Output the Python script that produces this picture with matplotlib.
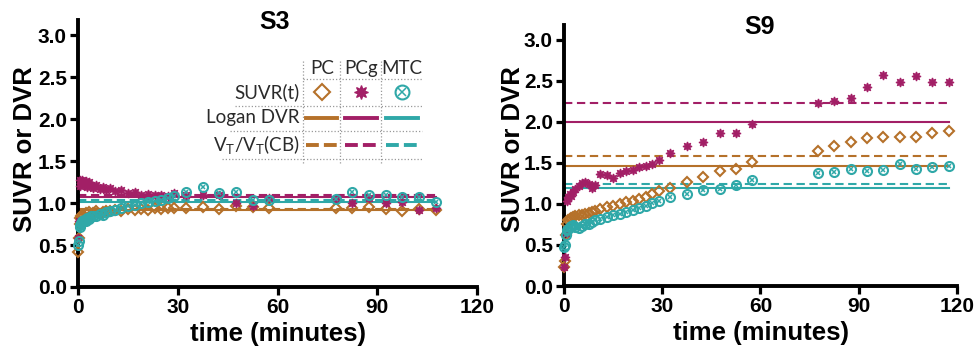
import matplotlib
matplotlib.use("Agg")
import matplotlib.pyplot as plt
from matplotlib.lines import Line2D

# ---- data -------------------------------------------------------------
# frame mid-times (min)
t_s3 = [0.1, 0.3, 0.5, 0.7, 0.9, 1.25, 1.75, 2.25, 2.75, 3.25, 3.75, 4.5, 5.5,
        6.5, 7.5, 8.5, 9.5, 11, 13, 15, 17, 19, 21, 23, 25, 27, 29,
        32.5, 37.5, 42.5, 47.5, 52.5, 57.5, 77.5, 82.5, 87.5, 92.5, 97.5,
        102.5, 107.5]
t_s9 = [0.125, 0.375, 0.625, 0.875, 1.25, 1.75, 2.25, 2.75, 3.5, 4.5, 5.5,
        6.5, 7.5, 8.5, 9.5, 11, 13, 15, 17, 19, 21, 23, 25, 27, 29,
        32.5, 37.5, 42.5, 47.5, 52.5, 57.5, 77.5, 82.5, 87.5, 92.5, 97.5,
        102.5, 107.5, 112.5, 117.5]

# SUVR(t) per region
s3_pc = [0.42, 0.58, 0.75, 0.82, 0.85, 0.86, 0.84, 0.88, 0.87, 0.89, 0.86,
         0.88, 0.90, 0.87, 0.89, 0.91, 0.90, 0.92, 0.91, 0.93, 0.92, 0.93,
         0.92, 0.94, 0.93, 0.94, 0.94, 0.94, 0.95, 0.93, 0.96, 0.95, 0.94,
         0.94, 0.94, 0.95, 0.93, 0.90, 0.93, 0.92]
s3_pcg = [0.58, 0.78, 1.20, 1.27, 1.24, 1.28, 1.22, 1.26, 1.19, 1.25, 1.21,
          1.18, 1.22, 1.17, 1.19, 1.15, 1.18, 1.14, 1.15, 1.12, 1.13, 1.10,
          1.11, 1.09, 1.10, 1.08, 1.12, 1.10, 1.09, 1.09, 1.00, 0.97, 1.06,
          1.05, 1.00, 1.06, 1.00, 1.01, 0.92, 0.94]
s3_mtc = [0.50, 0.55, 0.72, 0.74, 0.76, 0.78, 0.80, 0.79, 0.82, 0.81, 0.84,
          0.85, 0.84, 0.87, 0.86, 0.89, 0.90, 0.92, 0.94, 0.96, 0.98, 1.00,
          1.01, 1.03, 1.04, 1.06, 1.08, 1.13, 1.19, 1.12, 1.13, 1.04, 1.04,
          1.05, 1.13, 1.10, 1.09, 1.07, 1.07, 1.01]

s9_pc = [0.23, 0.31, 0.62, 0.76, 0.80, 0.82, 0.83, 0.84, 0.85, 0.86, 0.87,
         0.88, 0.89, 0.90, 0.91, 0.94, 0.96, 0.98, 1.00, 1.02, 1.04, 1.06,
         1.09, 1.12, 1.16, 1.20, 1.27, 1.33, 1.40, 1.42, 1.51, 1.65, 1.70,
         1.75, 1.80, 1.81, 1.81, 1.82, 1.87, 1.89]
s9_pcg = [0.23, 0.35, 0.64, 1.03, 1.08, 1.12, 1.10, 1.15, 1.18, 1.22, 1.25,
          1.27, 1.24, 1.20, 1.23, 1.37, 1.35, 1.32, 1.38, 1.40, 1.41, 1.45,
          1.46, 1.49, 1.53, 1.62, 1.71, 1.75, 1.87, 1.87, 1.97, 2.23, 2.26,
          2.29, 2.43, 2.57, 2.48, 2.56, 2.48, 2.48]
s9_mtc = [0.48, 0.50, 0.62, 0.68, 0.70, 0.72, 0.73, 0.74, 0.72, 0.71, 0.73,
          0.75, 0.76, 0.78, 0.80, 0.82, 0.84, 0.86, 0.88, 0.90, 0.92, 0.95,
          0.98, 1.01, 1.04, 1.09, 1.12, 1.17, 1.18, 1.23, 1.29, 1.38, 1.39,
          1.42, 1.40, 1.41, 1.49, 1.42, 1.45, 1.46]

# Logan DVR and VT/VT(CB) per region (PC, PCg, MTC)
s3_logan = [0.92, 1.07, 1.01]
s3_vt = [0.93, 1.09, 1.04]
s9_logan = [1.465, 2.00, 1.19]
s9_vt = [1.58, 2.23, 1.245]

regions = ["PC", "PCg", "MTC"]
colors = ["#B5712A", "#A21F66", "#2FA8A8"]

# ---- styling ----------------------------------------------------------
plt.rcParams["font.family"] = ["Liberation Sans", "DejaVu Sans"]
LEG_FONT = ["Lato", "DejaVu Sans"]


def draw_marker(ax, x, y, kind, color, ms, **kw):
    if kind == "PC":
        ax.plot(x, y, ls="none", marker="D", ms=ms * 0.8, mfc="none",
                mec=color, mew=1.5, **kw)
    elif kind == "PCg":
        ax.plot(x, y, ls="none", marker=(8, 1, 0), ms=ms, mfc=color,
                mec=color, mew=0.9, **kw)
    else:
        ax.plot(x, y, ls="none", marker="o", ms=ms, mfc="none",
                mec=color, mew=1.5, **kw)
        ax.plot(x, y, ls="none", marker="x", ms=ms * 0.55, mec=color,
                mew=1.1, **kw)


def panel(ax, t, series, logan, vt, title_xy, title):
    tend = t[-1]
    for i, name in enumerate(regions):
        ax.plot([0, tend], [logan[i], logan[i]], color=colors[i], lw=1.5,
                zorder=2)
        ax.plot([0, tend], [vt[i], vt[i]], color=colors[i], lw=1.5,
                dashes=(4, 2.2), zorder=2)
    for i, name in enumerate(regions):
        draw_marker(ax, t, series[i], name, colors[i], 6.5, clip_on=False,
                    zorder=3)
    ax.set_xlim(0, 120)
    ax.set_ylim(0, 3.18)
    ax.set_xticks([0, 30, 60, 90, 120])
    ax.set_yticks([0.0, 0.5, 1.0, 1.5, 2.0, 2.5, 3.0])
    ax.set_yticklabels(["0.0", "0.5", "1.0", "1.5", "2.0", "2.5", "3.0"])
    for s in ["top", "right"]:
        ax.spines[s].set_visible(False)
    for s in ["left", "bottom"]:
        ax.spines[s].set_linewidth(2.8)
    ax.tick_params(axis="both", direction="out", length=6, width=2.3,
                   labelsize=15, pad=2)
    for lab in ax.get_xticklabels() + ax.get_yticklabels():
        lab.set_fontweight("bold")
    ax.set_xlabel("time (minutes)", fontsize=18.5, fontweight="bold")
    ax.set_ylabel("SUVR or DVR", fontsize=18.5, fontweight="bold")
    fig.text(title_xy[0], title_xy[1], title, fontsize=18, fontweight="bold",
             ha="center", va="center")


fig = plt.figure(figsize=(9.78, 3.52), dpi=100)
ax1 = fig.add_axes([0.0798, 0.1847, 0.4080, 0.7585])
ax2 = fig.add_axes([0.5767, 0.1875, 0.4018, 0.7415])

panel(ax1, t_s3, [s3_pc, s3_pcg, s3_mtc], s3_logan, s3_vt,
      (275 / 978, 1 - 22 / 352), "S3")
panel(ax2, t_s9, [s9_pc, s9_pcg, s9_mtc], s9_logan, s9_vt,
      (760 / 978, 1 - 27 / 352), "S9")

ax1.yaxis.set_label_coords(-0.103, 0.517)
ax2.yaxis.set_label_coords(-0.099, 0.525)
ax1.xaxis.set_label_coords(0.5, -0.13)
ax2.xaxis.set_label_coords(0.501, -0.135)

# ---- table-style legend in S3 panel -----------------------------------
tr = ax1.transAxes
grid_kw = dict(color="#9a9a9a", lw=0.9, ls=(0, (1, 1.6)), transform=tr,
               clip_on=False, zorder=1)
for fx in [0.564, 0.657, 0.759]:
    ax1.add_line(Line2D([fx, fx], [0.464, 0.850], **grid_kw))
for fy, x0 in [(0.779, 0.564), (0.678, 0.393), (0.584, 0.381), (0.479, 0.361)]:
    ax1.add_line(Line2D([x0, 0.862], [fy, fy], **grid_kw))

col_x = [0.612, 0.709, 0.812]
seg_x = [(0.571, 0.648), (0.669, 0.749), (0.772, 0.852)]
for i, name in enumerate(regions):
    ax1.text(col_x[i], 0.820, name, transform=tr, ha="center", va="center",
             fontsize=13.5, family=LEG_FONT, color="#2a2a2a")
    draw_marker(ax1, [col_x[i]], [0.730], name, colors[i], 10,
                transform=tr, clip_on=False)
    ax1.add_line(Line2D(seg_x[i], [0.633, 0.633], color=colors[i], lw=2.8,
                        transform=tr, clip_on=False))
    ax1.add_line(Line2D(seg_x[i], [0.532, 0.532], color=colors[i], lw=2.8,
                        dashes=(3.3, 1.3), transform=tr, clip_on=False))

for fy, txt in [(0.730, "SUVR(t)"), (0.633, "Logan DVR"),
                (0.532, r"V$_\mathregular{T}$/V$_\mathregular{T}$(CB)")]:
    ax1.text(0.556, fy, txt, transform=tr, ha="right", va="center",
             fontsize=13.5, family=LEG_FONT, color="#2a2a2a")

fig.savefig("out.png", dpi=100)
